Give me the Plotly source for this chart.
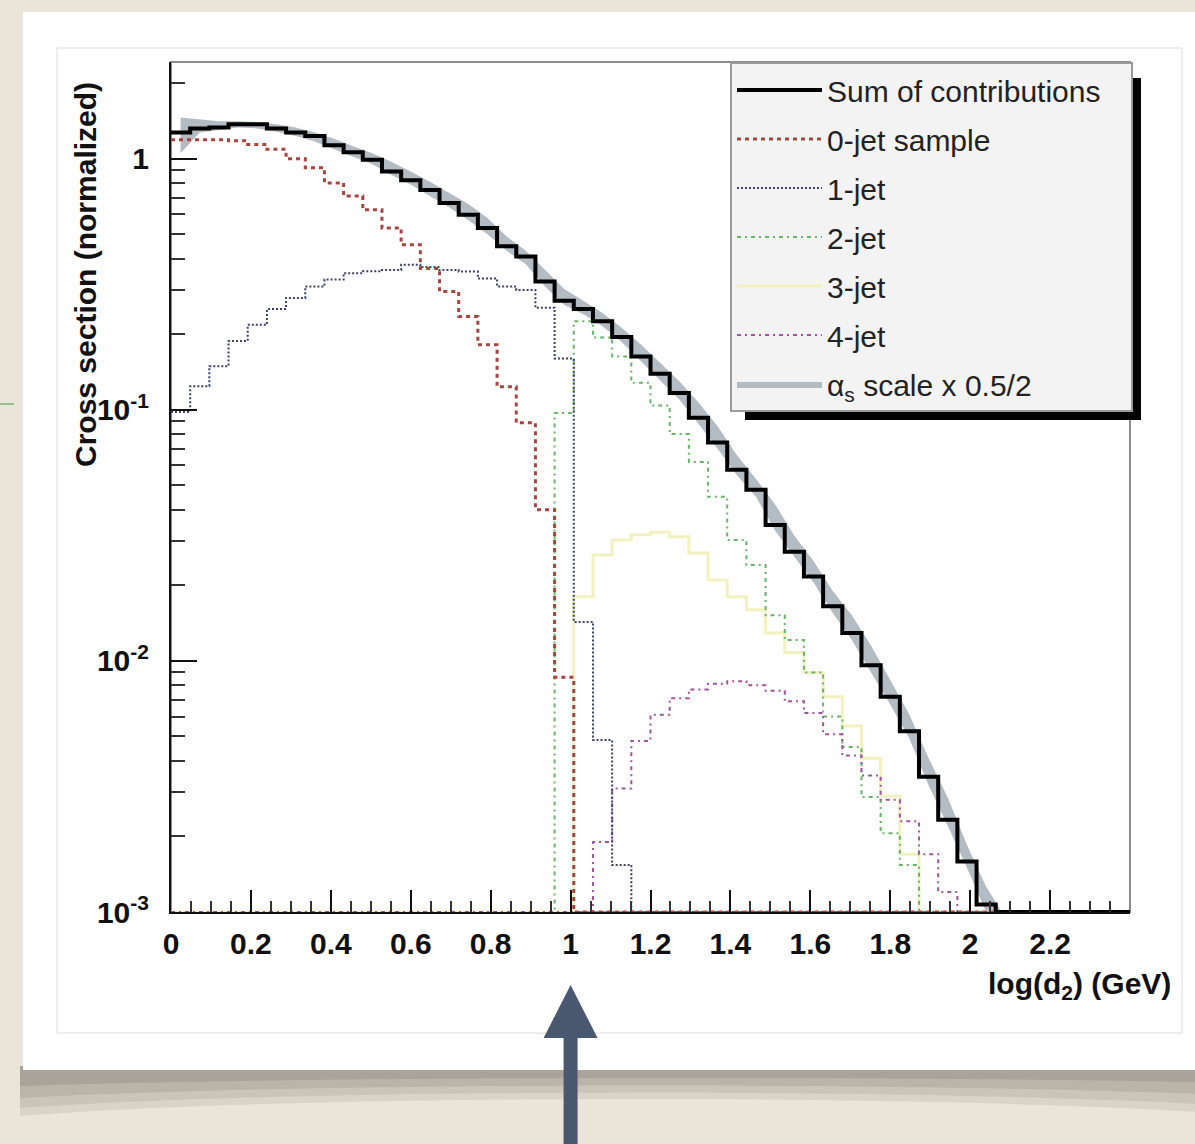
import numpy as np
import plotly.graph_objects as go

# ---------------- data ----------------
N_BINS = 50
X_LO, X_HI = 0.0, 2.4

sum_contrib = [1.27, 1.32, 1.33, 1.37, 1.37, 1.32, 1.27, 1.23, 1.13, 1.06,
               0.99, 0.89, 0.82, 0.75, 0.666, 0.598, 0.53, 0.448, 0.408, 0.324,
               0.272, 0.252, 0.225, 0.195, 0.163, 0.139, 0.1166, 0.093, 0.074, 0.0577,
               0.048, 0.0348, 0.0272, 0.0217, 0.0165, 0.0129, 0.0096, 0.0072, 0.00525, 0.00346,
               0.00233, 0.00159, 0.00107, 0, 0, 0, 0, 0, 0, 0]

jet0 = [1.19, 1.19, 1.19, 1.18, 1.14, 1.09, 1.0, 0.92, 0.80, 0.71,
        0.626, 0.53, 0.454, 0.365, 0.296, 0.235, 0.1815, 0.1235, 0.0887, 0.040,
        0.0086, 0, 0, 0, 0, 0, 0, 0, 0, 0,
        0, 0, 0, 0, 0, 0, 0, 0, 0, 0,
        0, 0, 0, 0, 0, 0, 0, 0, 0, 0]

jet1 = [0.098, 0.124, 0.149, 0.188, 0.218, 0.252, 0.279, 0.31, 0.33, 0.35,
        0.356, 0.36, 0.378, 0.37, 0.36, 0.355, 0.333, 0.31, 0.30, 0.255,
        0.16, 0.0143, 0.00484, 0.00154, 0, 0, 0, 0, 0, 0,
        0, 0, 0, 0, 0, 0, 0, 0, 0, 0,
        0, 0, 0, 0, 0, 0, 0, 0, 0, 0]

jet2 = [0, 0, 0, 0, 0, 0, 0, 0, 0, 0,
        0, 0, 0, 0, 0, 0, 0, 0, 0, 0,
        0.097, 0.225, 0.194, 0.163, 0.128, 0.104, 0.08, 0.062, 0.045, 0.0303,
        0.0241, 0.0152, 0.0121, 0.0090, 0.0060, 0.00454, 0.00287, 0.00206, 0.00154, 0,
        0, 0, 0, 0, 0, 0, 0, 0, 0, 0]

jet3 = [0, 0, 0, 0, 0, 0, 0, 0, 0, 0,
        0, 0, 0, 0, 0, 0, 0, 0, 0, 0,
        0, 0.018, 0.0264, 0.0303, 0.0318, 0.0325, 0.0312, 0.0269, 0.021, 0.018,
        0.016, 0.0129, 0.0108, 0.009, 0.0072, 0.0055, 0.0041, 0.0029, 0.0017, 0,
        0, 0, 0, 0, 0, 0, 0, 0, 0, 0]

jet4 = [0, 0, 0, 0, 0, 0, 0, 0, 0, 0,
        0, 0, 0, 0, 0, 0, 0, 0, 0, 0,
        0, 0, 0.0019, 0.0031, 0.0048, 0.0061, 0.0071, 0.0077, 0.0081, 0.0083,
        0.0080, 0.0076, 0.0069, 0.0062, 0.0051, 0.0042, 0.0035, 0.0028, 0.0023, 0.0017,
        0.0012, 0, 0, 0, 0, 0, 0, 0, 0, 0]

# alpha_s scale variation band, at bin centres of the first 44 bins
band_lo = [1.05, 1.27, 1.30, 1.33, 1.32, 1.28, 1.23, 1.17, 1.09, 1.02,
           0.95, 0.86, 0.79, 0.71, 0.64, 0.57, 0.50, 0.43, 0.38, 0.31,
           0.262, 0.24, 0.215, 0.186, 0.156, 0.132, 0.11, 0.088, 0.07, 0.055,
           0.045, 0.033, 0.026, 0.0205, 0.0155, 0.0121, 0.009, 0.0067, 0.0049, 0.0032,
           0.0022, 0.0015, 0.001, 0.0009]
band_hi = [1.46, 1.43, 1.41, 1.41, 1.40, 1.37, 1.33, 1.27, 1.20, 1.12,
           1.05, 0.97, 0.89, 0.81, 0.73, 0.66, 0.58, 0.49, 0.43, 0.36,
           0.303, 0.272, 0.243, 0.212, 0.182, 0.154, 0.13, 0.107, 0.086, 0.066,
           0.053, 0.042, 0.0315, 0.025, 0.019, 0.0152, 0.0115, 0.0084, 0.0061, 0.0041,
           0.00285, 0.00185, 0.00126, 0.00095]

x_tick_vals = [0, 0.2, 0.4, 0.6, 0.8, 1.0, 1.2, 1.4, 1.6, 1.8, 2.0, 2.2]
x_tick_text = ["0", "0.2", "0.4", "0.6", "0.8", "1", "1.2", "1.4", "1.6", "1.8", "2", "2.2"]
y_tick_vals = [1e-3, 1e-2, 1e-1, 1]
y_tick_text = ["10<sup>-3</sup>", "10<sup>-2</sup>", "10<sup>-1</sup>", "1"]

legend_names = ["Sum of contributions&nbsp;&nbsp;&nbsp;", "0-jet sample", "1-jet", "2-jet", "3-jet", "4-jet",
                "α<sub>s</sub> scale x 0.5/2"]

# ---------------- geometry helpers ----------------
W, H = 1195, 1144
L, R, T, B = 171, 1130, 62, 912
Y_MIN_LOG, Y_MAX_LOG = -3, 0.385
FLOOR = 10 ** Y_MIN_LOG

edges = np.linspace(X_LO, X_HI, N_BINS + 1)
centers = 0.5 * (edges[:-1] + edges[1:])


def px(p):
    return (p - L) / (R - L)


def py(p):
    return (B - p) / (B - T)


def step_xy(vals):
    v = [x if x > 0 else FLOOR for x in vals]
    return list(edges), v + [v[-1]]


FONT = "Liberation Sans"

fig = go.Figure()

# band
nb = len(band_lo)
fig.add_trace(go.Scatter(x=list(centers[:nb]), y=band_lo, mode="lines",
                         line=dict(width=0, color="#b3bbc3"), showlegend=False,
                         legendgroup="band", hoverinfo="skip"))
fig.add_trace(go.Scatter(x=list(centers[:nb]), y=band_hi, mode="lines", fill="tonexty",
                         fillcolor="#b3bbc3", line=dict(width=0, color="#b3bbc3"),
                         name=legend_names[6], legendgroup="band", legendrank=7))

styles = [
    (jet3, legend_names[4], dict(color="#f2f2c0", width=3), 5, "j3"),
    (jet2, legend_names[3], dict(color="#6ab46a", width=2, dash="4px,4px,2px,4px"), 4, "j2"),
    (jet4, legend_names[5], dict(color="#a0559f", width=2, dash="4px,4px,2px,4px"), 6, "j4"),
    (jet1, legend_names[2], dict(color="#3c4262", width=2, dash="2px,2px"), 3, "j1"),
    (jet0, legend_names[1], dict(color="#a8443e", width=3, dash="4px,4px"), 2, "j0"),
    (sum_contrib, legend_names[0], dict(color="#000000", width=4), 1, "sum"),
]
for vals, name, line, rank, grp in styles:
    xs, ys = step_xy(vals)
    fig.add_trace(go.Scatter(x=xs, y=ys, mode="lines", line_shape="hv", line=line,
                             name=name, legendgroup=grp, legendrank=rank))

# ---------------- decoration shapes ----------------
shapes = []
# card shadow (curled page), layered for a soft gradient
for depth_side, depth_mid, alpha in [(46, 24, 0.10), (38, 18, 0.10), (28, 12, 0.12), (16, 6, 0.14)]:
    shapes.append(dict(type="path", xref="paper", yref="paper", layer="below",
                       path=(f"M{px(20)},{py(1066)} L{px(1200)},{py(1066)} L{px(1200)},{py(1070 + depth_side - 4)} "
                             f"C{px(900)},{py(1070 + depth_mid)} {px(300)},{py(1070 + depth_mid)} "
                             f"{px(20)},{py(1070 + depth_side)} Z"),
                       fillcolor=f"rgba(70,65,60,{alpha})", line=dict(width=0)))
# white card
shapes.append(dict(type="rect", xref="paper", yref="paper", layer="below",
                   x0=px(23), x1=px(1205), y0=py(1070), y1=py(12),
                   fillcolor="#ffffff", line=dict(width=0)))
# inner canvas border
shapes.append(dict(type="rect", xref="paper", yref="paper", layer="below",
                   x0=px(57), x1=px(1182), y0=py(1033), y1=py(48),
                   fillcolor="#ffffff", line=dict(width=1, color="#dcdcdc")))
# plot frame
shapes.append(dict(type="rect", xref="x domain", yref="y domain", layer="below",
                   x0=0, x1=1, y0=0, y1=1, line=dict(width=2, color="#8c8c8c")))
# legend shadow
shapes.append(dict(type="rect", xref="paper", yref="paper", layer="above",
                   x0=px(745), x1=px(1141), y0=py(420), y1=py(78),
                   fillcolor="#000000", line=dict(width=0)))
# arrow pointing at x = 1
ax_c = 1.0
hw_shaft, hw_head = 7 / 400, 27 / 400
shapes.append(dict(type="path", xref="x", yref="paper", layer="above",
                   path=(f"M{ax_c},{py(985)} L{ax_c + hw_head},{py(1038)} L{ax_c + hw_shaft},{py(1038)} "
                         f"L{ax_c + hw_shaft},{py(1150)} L{ax_c - hw_shaft},{py(1150)} "
                         f"L{ax_c - hw_shaft},{py(1038)} L{ax_c - hw_head},{py(1038)} Z"),
                   fillcolor="#4a586f", line=dict(width=0)))
# small green mark at left edge
shapes.append(dict(type="line", xref="paper", yref="paper", layer="above",
                   x0=px(0), x1=px(14), y0=py(404), y1=py(404),
                   line=dict(width=1, color="#3aa04a")))

annotations = [
    dict(text="<b>Cross section (normalized)</b>", textangle=-90, xref="paper", yref="paper",
         x=px(85), y=py(275), xanchor="center", yanchor="middle", showarrow=False,
         font=dict(family=FONT, size=30, color="#111")),
    dict(text="<b>log(d<sub>2</sub>) (GeV)</b>", xref="paper", yref="paper",
         x=px(1173), y=py(985), xanchor="right", yanchor="middle", showarrow=False,
         font=dict(family=FONT, size=30, color="#111")),
]

minor_y = [d * 10.0 ** e for e in range(-3, 0) for d in range(2, 10)] + [2.0]

fig.update_layout(
    width=W, height=H, autosize=False,
    margin=dict(l=L, r=W - R, t=T, b=H - B, pad=0),
    paper_bgcolor="#ebe4d9", plot_bgcolor="rgba(0,0,0,0)",
    shapes=shapes, annotations=annotations,
    showlegend=True,
    legend=dict(x=px(730), y=1.0, xanchor="left", yanchor="top",
                bgcolor="#f3f3f3", bordercolor="#9a9a9a", borderwidth=2,
                font=dict(family=FONT, size=30, color="#222"),
                traceorder="grouped", tracegroupgap=7, itemwidth=85,
                itemclick=False),
    xaxis=dict(range=[X_LO, X_HI], tickmode="array", tickvals=x_tick_vals, ticktext=x_tick_text,
               ticks="inside", ticklen=22, tickwidth=2, tickcolor="#111",
               showline=True, linecolor="#111", linewidth=2, mirror=False,
               showgrid=False, zeroline=False, ticklabelstandoff=4,
               tickfont=dict(family=FONT, size=30, color="#111", weight="bold"),
               minor=dict(ticks="inside", ticklen=11, tickwidth=1.5, tickcolor="#333",
                          dtick=0.05, tick0=0, showgrid=False)),
    yaxis=dict(type="log", range=[Y_MIN_LOG, Y_MAX_LOG], tickmode="array",
               tickvals=y_tick_vals, ticktext=y_tick_text,
               ticks="inside", ticklen=26, tickwidth=2, tickcolor="#111",
               showline=True, linecolor="#111", linewidth=2, mirror=False,
               showgrid=False, zeroline=False, ticklabelstandoff=14,
               tickfont=dict(family=FONT, size=30, color="#111", weight="bold"),
               minor=dict(ticks="inside", ticklen=14, tickwidth=1.5, tickcolor="#333",
                          tickmode="array", tickvals=minor_y, showgrid=False)),
)

fig.write_html("out.html")
